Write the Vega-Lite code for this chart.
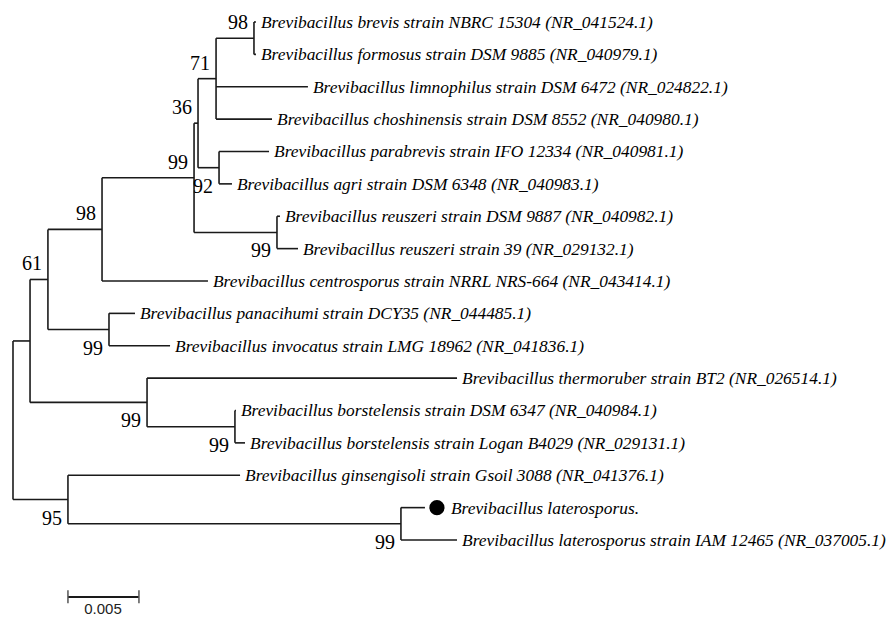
{
  "$schema": "https://vega.github.io/schema/vega-lite/v6.json",
  "width": 887,
  "height": 617,
  "padding": 0,
  "autosize": {"type": "none"},
  "background": "white",
  "config": {"view": {"stroke": null}},
  "datasets": {
    "nodes": [
      {"id": "root", "parent": null, "x": 0, "y": 13.301},
      {"id": "A", "parent": "root", "x": 0.0012, "y": 10.852},
      {"id": "n95", "parent": "root", "x": 0.00387, "y": 15.75, "boot": "95", "side": "lower"},
      {"id": "n61", "parent": "A", "x": 0.00246, "y": 8.953, "boot": "61", "side": "upper"},
      {"id": "th99", "parent": "A", "x": 0.00944, "y": 12.75, "boot": "99", "side": "lower"},
      {"id": "n98", "parent": "n61", "x": 0.00627, "y": 7.406, "boot": "98", "side": "upper"},
      {"id": "pan99", "parent": "n61", "x": 0.00676, "y": 10.5, "boot": "99", "side": "lower"},
      {"id": "n99a", "parent": "n98", "x": 0.01275, "y": 5.8125, "boot": "99", "side": "upper"},
      {"id": "centro", "parent": "n98", "x": 0.01373, "y": 9, "label": "Brevibacillus centrosporus strain NRRL NRS-664 (NR_043414.1)"},
      {"id": "n36", "parent": "n99a", "x": 0.01303, "y": 4.125, "boot": "36", "side": "upper"},
      {"id": "reus99", "parent": "n99a", "x": 0.01859, "y": 7.5, "boot": "99", "side": "lower"},
      {"id": "n71", "parent": "n36", "x": 0.0143, "y": 2.75, "boot": "71", "side": "upper"},
      {"id": "n92", "parent": "n36", "x": 0.01451, "y": 5.5, "boot": "92", "side": "lower"},
      {"id": "n98b", "parent": "n71", "x": 0.01697, "y": 1.5, "boot": "98", "side": "upper"},
      {"id": "brevis", "parent": "n98b", "x": 0.01711, "y": 1, "label": "Brevibacillus brevis strain NBRC 15304 (NR_041524.1)"},
      {"id": "formosus", "parent": "n98b", "x": 0.01711, "y": 2, "label": "Brevibacillus formosus strain DSM 9885 (NR_040979.1)"},
      {"id": "limno", "parent": "n71", "x": 0.02077, "y": 3, "label": "Brevibacillus limnophilus strain DSM 6472 (NR_024822.1)"},
      {"id": "chosh", "parent": "n71", "x": 0.01824, "y": 4, "label": "Brevibacillus choshinensis strain DSM 8552 (NR_040980.1)"},
      {"id": "parab", "parent": "n92", "x": 0.01803, "y": 5, "label": "Brevibacillus parabrevis strain IFO 12334 (NR_040981.1)"},
      {"id": "agri", "parent": "n92", "x": 0.01542, "y": 6, "label": "Brevibacillus agri strain DSM 6348 (NR_040983.1)"},
      {"id": "reusDSM", "parent": "reus99", "x": 0.0188, "y": 7, "label": "Brevibacillus reuszeri strain DSM 9887 (NR_040982.1)"},
      {"id": "reus39", "parent": "reus99", "x": 0.02007, "y": 8, "label": "Brevibacillus reuszeri strain 39 (NR_029132.1)"},
      {"id": "panac", "parent": "pan99", "x": 0.00859, "y": 10, "label": "Brevibacillus panacihumi strain DCY35 (NR_044485.1)"},
      {"id": "invoc", "parent": "pan99", "x": 0.01106, "y": 11, "label": "Brevibacillus invocatus strain LMG 18962 (NR_041836.1)"},
      {"id": "thermo", "parent": "th99", "x": 0.03127, "y": 12, "label": "Brevibacillus thermoruber strain BT2 (NR_026514.1)"},
      {"id": "bors99", "parent": "th99", "x": 0.01563, "y": 13.5, "boot": "99", "side": "lower"},
      {"id": "borsDSM", "parent": "bors99", "x": 0.0157, "y": 13, "label": "Brevibacillus borstelensis strain DSM 6347 (NR_040984.1)"},
      {"id": "logan", "parent": "bors99", "x": 0.01634, "y": 14, "label": "Brevibacillus borstelensis strain Logan B4029 (NR_029131.1)"},
      {"id": "ginseng", "parent": "n95", "x": 0.01599, "y": 15, "label": "Brevibacillus ginsengisoli strain Gsoil 3088 (NR_041376.1)"},
      {"id": "lat99", "parent": "n95", "x": 0.02732, "y": 16.5, "boot": "99", "side": "lower"},
      {"id": "later", "parent": "lat99", "x": 0.02901, "y": 16, "label": "Brevibacillus laterosporus.", "marker": true},
      {"id": "iam", "parent": "lat99", "x": 0.03127, "y": 17, "label": "Brevibacillus laterosporus strain IAM 12465 (NR_037005.1)"}
    ],
    "scalebar": [
      {"x": 0.00387, "x2": 0.00887, "y": 18.76, "label": "0.005"}
    ],
    "scaleticks": [
      {"x": 0.00387, "y": 18.55, "y2": 18.95},
      {"x": 0.00887, "y": 18.55, "y2": 18.95}
    ]
  },
  "encoding": {
    "x": {"type": "quantitative", "axis": null, "scale": {"domain": [-0.000915, 0.061549], "nice": false, "zero": false}},
    "y": {"type": "quantitative", "axis": null, "scale": {"domain": [0.32046, 19.3784], "nice": false, "zero": false, "reverse": true}}
  },
  "layer": [
    {
      "data": {"name": "nodes"},
      "transform": [
        {"filter": "datum.parent != null"},
        {"lookup": "parent", "from": {"data": {"name": "nodes"}, "key": "id", "fields": ["x"]}, "as": ["px"]}
      ],
      "mark": {"type": "rule", "color": "#1a1a1a", "strokeWidth": 1.6},
      "encoding": {
        "x": {"field": "px", "type": "quantitative"},
        "x2": {"field": "x"},
        "y": {"field": "y", "type": "quantitative"}
      }
    },
    {
      "data": {"name": "nodes"},
      "transform": [
        {"filter": "datum.parent != null"},
        {"aggregate": [{"op": "min", "field": "y", "as": "ylo"}, {"op": "max", "field": "y", "as": "yhi"}], "groupby": ["parent"]},
        {"lookup": "parent", "from": {"data": {"name": "nodes"}, "key": "id", "fields": ["x"]}}
      ],
      "mark": {"type": "rule", "color": "#1a1a1a", "strokeWidth": 1.6},
      "encoding": {
        "x": {"field": "x", "type": "quantitative"},
        "y": {"field": "ylo", "type": "quantitative"},
        "y2": {"field": "yhi"}
      }
    },
    {
      "data": {"name": "nodes"},
      "transform": [{"filter": "isValid(datum.label) && datum.marker !== true"}],
      "mark": {"type": "text", "align": "left", "baseline": "middle", "dx": 5, "dy": 1, "font": "Liberation Serif", "fontStyle": "italic", "fontSize": 17.4, "color": "black"},
      "encoding": {
        "x": {"field": "x", "type": "quantitative"},
        "y": {"field": "y", "type": "quantitative"},
        "text": {"field": "label"}
      }
    },
    {
      "data": {"name": "nodes"},
      "transform": [{"filter": "datum.marker === true"}],
      "mark": {"type": "text", "align": "left", "baseline": "middle", "dx": 26, "dy": 1, "font": "Liberation Serif", "fontStyle": "italic", "fontSize": 17.4, "color": "black"},
      "encoding": {
        "x": {"field": "x", "type": "quantitative"},
        "y": {"field": "y", "type": "quantitative"},
        "text": {"field": "label"}
      }
    },
    {
      "data": {"name": "nodes"},
      "transform": [{"filter": "datum.marker === true"}],
      "mark": {"type": "point", "shape": "circle", "filled": true, "size": 230, "xOffset": 12, "color": "black", "opacity": 1},
      "encoding": {
        "x": {"field": "x", "type": "quantitative"},
        "y": {"field": "y", "type": "quantitative"}
      }
    },
    {
      "data": {"name": "nodes"},
      "transform": [{"filter": "isValid(datum.boot) && datum.side === 'upper'"}],
      "mark": {"type": "text", "align": "right", "baseline": "alphabetic", "dx": -6, "dy": -9, "font": "Liberation Serif", "fontSize": 20, "color": "black"},
      "encoding": {
        "x": {"field": "x", "type": "quantitative"},
        "y": {"field": "y", "type": "quantitative"},
        "text": {"field": "boot"}
      }
    },
    {
      "data": {"name": "nodes"},
      "transform": [{"filter": "isValid(datum.boot) && datum.side === 'lower'"}],
      "mark": {"type": "text", "align": "right", "baseline": "alphabetic", "dx": -6, "dy": 25, "font": "Liberation Serif", "fontSize": 20, "color": "black"},
      "encoding": {
        "x": {"field": "x", "type": "quantitative"},
        "y": {"field": "y", "type": "quantitative"},
        "text": {"field": "boot"}
      }
    },
    {
      "data": {"name": "scalebar"},
      "mark": {"type": "rule", "color": "#1a1a1a", "strokeWidth": 2},
      "encoding": {
        "x": {"field": "x", "type": "quantitative"},
        "x2": {"field": "x2"},
        "y": {"field": "y", "type": "quantitative"}
      }
    },
    {
      "data": {"name": "scaleticks"},
      "mark": {"type": "rule", "color": "#555", "strokeWidth": 1.5},
      "encoding": {
        "x": {"field": "x", "type": "quantitative"},
        "y": {"field": "y", "type": "quantitative"},
        "y2": {"field": "y2"}
      }
    },
    {
      "data": {"name": "scalebar"},
      "mark": {"type": "text", "align": "center", "baseline": "top", "dy": 5, "dx": 35, "font": "Liberation Sans Narrow, Liberation Sans", "fontSize": 15, "color": "#222"},
      "encoding": {
        "x": {"field": "x", "type": "quantitative"},
        "y": {"field": "y", "type": "quantitative"},
        "text": {"field": "label"}
      }
    }
  ]
}
